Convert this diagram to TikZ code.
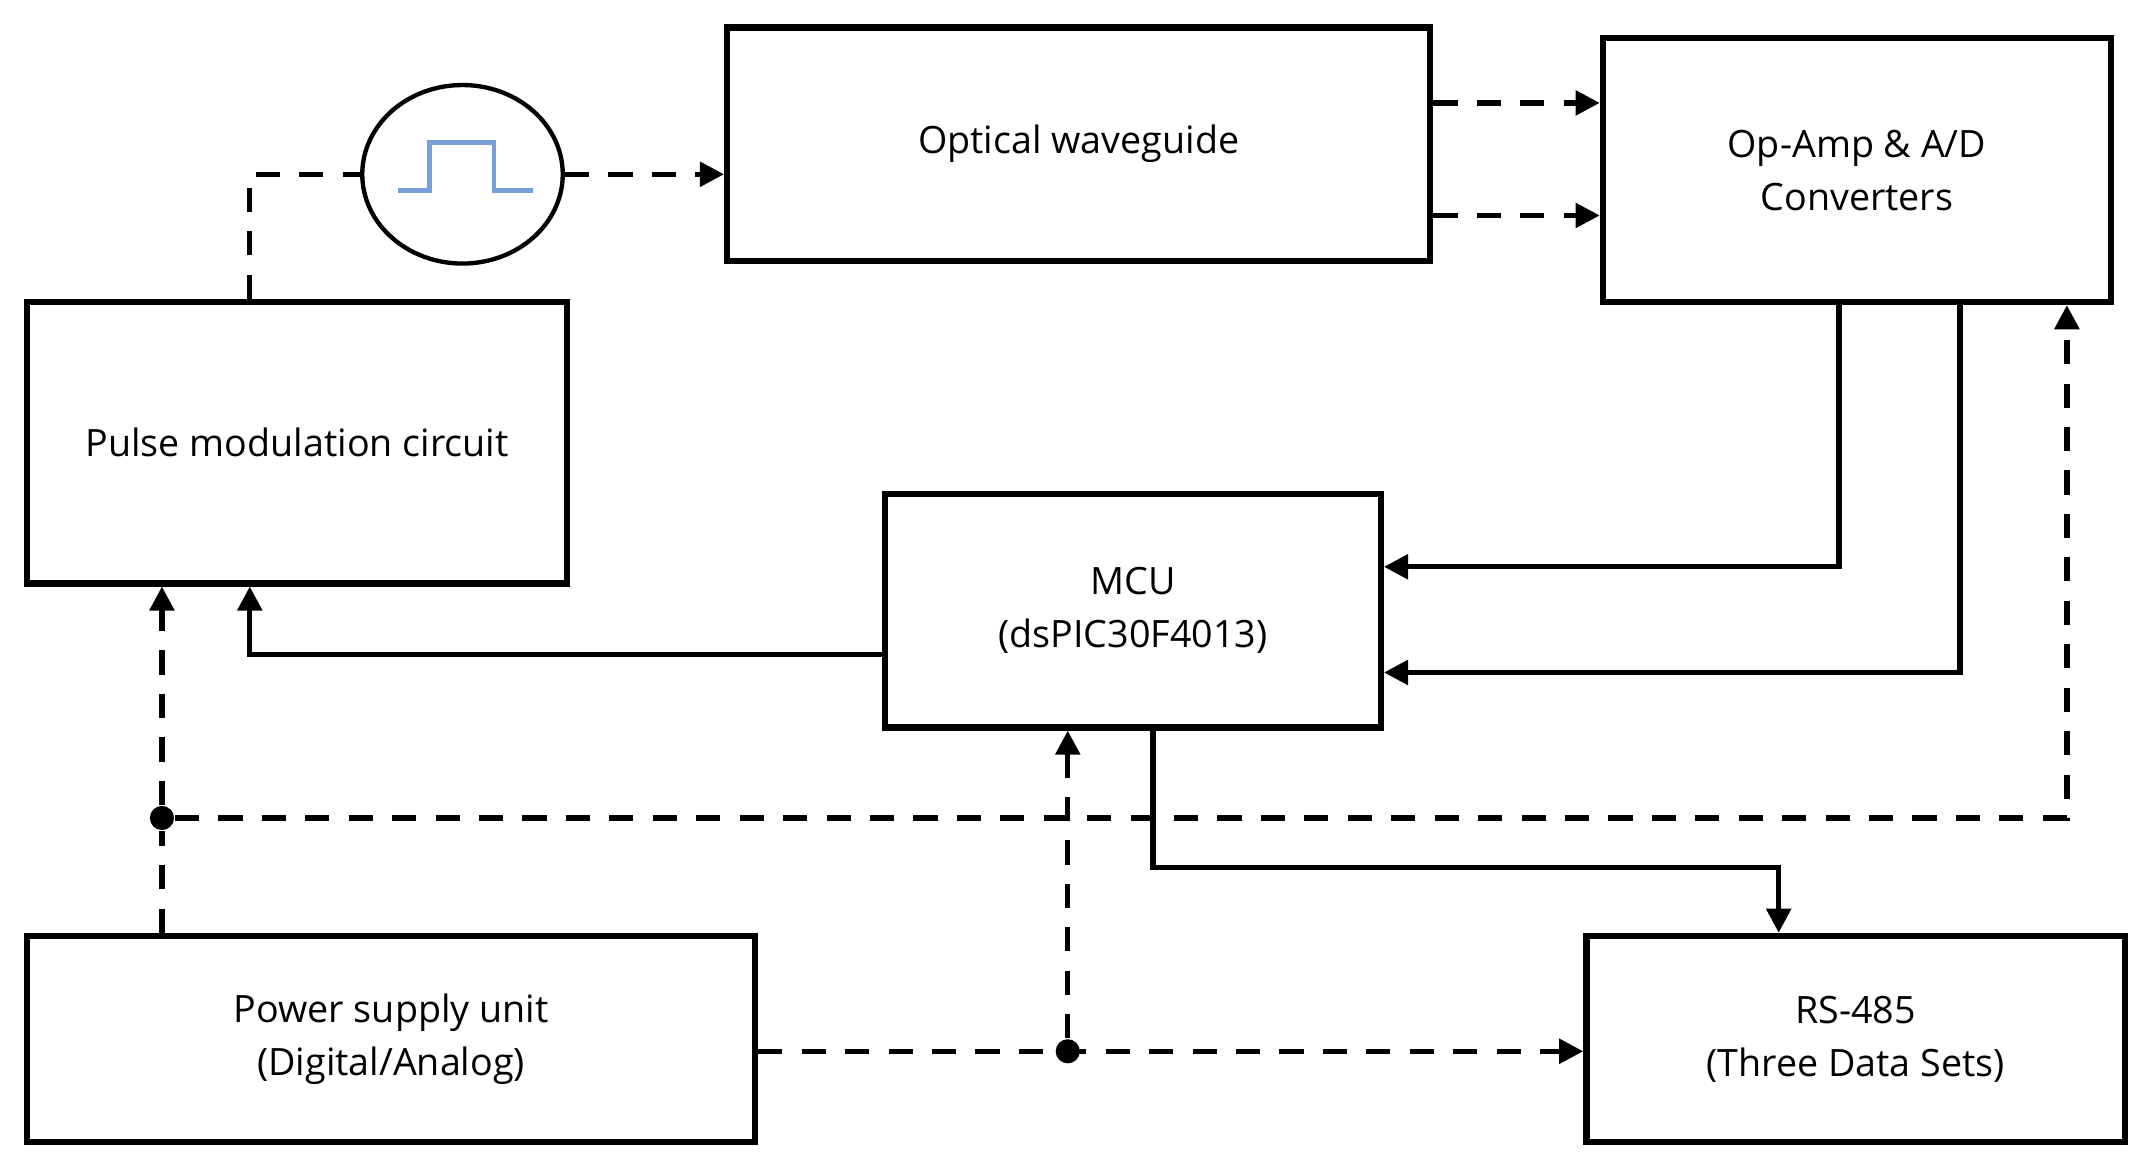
\documentclass[tikz,border=0pt]{standalone}
\usepackage{fontspec}
\setmainfont{Open Sans}
\usetikzlibrary{arrows.meta,shapes.geometric}
\begin{document}
\begin{tikzpicture}[x=0.01cm,y=-0.01cm,
  box/.style={draw,line width=1.3pt,inner sep=0pt,align=center,font=\fontsize{7.8}{11}\selectfont},
  sol/.style={line width=1.1pt,-{Triangle[length=5pt,width=5pt]}},
  das/.style={sol,dash pattern=on 5pt off 4pt},
  dot/.style={circle,fill,inner sep=0pt,minimum size=5pt}]
\useasboundingbox (0,0) rectangle (1560,852);
\node[box,minimum width=3.93cm,minimum height=2.05cm] (pm) at (216.5,322.5) {Pulse modulation circuit};
\node[box,minimum width=5.12cm,minimum height=1.70cm] (ow) at (786,105) {Optical waveguide};
\node[box,minimum width=3.70cm,minimum height=1.92cm] (oa) at (1353,124) {Op-Amp \& A/D\\Converters};
\node[box,minimum width=3.61cm,minimum height=1.70cm] (mcu) at (825.5,445) {MCU\\(dsPIC30F4013)};
\node[box,minimum width=5.30cm,minimum height=1.50cm] (ps) at (285,757) {Power supply unit\\(Digital/Analog)};
\node[box,minimum width=3.92cm,minimum height=1.50cm] (rs) at (1352,757) {RS-485\\(Three Data Sets)};
\node[draw,line width=0.9pt,ellipse,minimum width=1.46cm,minimum height=1.30cm,inner sep=0pt] (el) at (337,127) {};
\draw[line width=1pt,color=cyan!50!blue!55] (290,139) -- (313,139) -- (313,104) -- (360,104) -- (360,139) -- (388,139);
\coordinate (c1) at (182,127);
\node[dot] (j1) at (118,596) {};
\node[dot] (j2) at (778,766) {};
\draw[line width=1.1pt,dash pattern=on 5pt off 4pt] (pm.north -| c1) -- (c1) -- (el.west);
\draw[das] (el.east) -- (ow.west |- el.east);
\draw[das] (ow.east |- 0,75) -- (oa.west |- 0,75);
\draw[das] (ow.east |- 0,157) -- (oa.west |- 0,157);
\draw[sol] (oa.south -| 1340,0) -- (1340,413) -- (mcu.east |- 0,413);
\draw[sol] (oa.south -| 1428,0) -- (1428,490) -- (mcu.east |- 0,490);
\draw[sol] (mcu.west |- 0,477) -- (182,477) -- (pm.south -| 182,0);
\draw[sol] (mcu.south -| 840,0) -- (840,632) -- (1296,632) -- (rs.north -| 1296,0);
\draw[line width=1.1pt,dash pattern=on 5pt off 4pt] (ps.north -| j1) -- (j1);
\draw[das] (j1) -- (pm.south -| j1);
\draw[das] (j1) -- (1506,596) -- (oa.south -| 1506,0);
\draw[das] (ps.east |- j2) -- (rs.west |- j2);
\draw[das] (j2) -- (mcu.south -| j2);
\end{tikzpicture}
\end{document}
